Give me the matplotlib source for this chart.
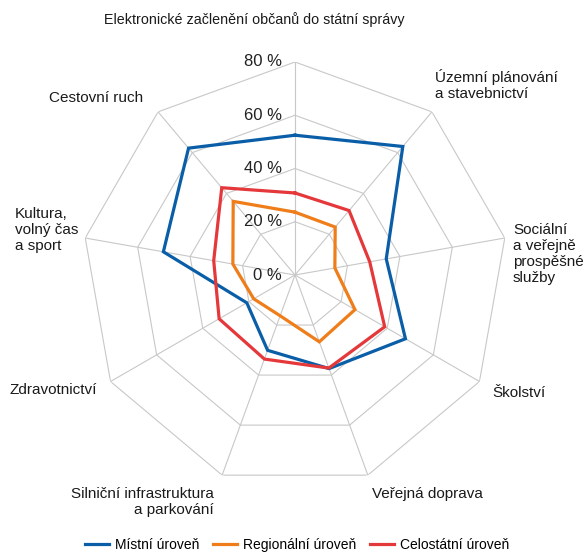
import numpy as np
import matplotlib
matplotlib.use("Agg")
import matplotlib.pyplot as plt
from matplotlib import transforms

plt.rcParams['font.family'] = ['Liberation Sans', 'DejaVu Sans']

# data, clockwise from the top
categories = [
    "Elektronické začlenění občanů do státní správy",
    "Územní plánování\na stavebnictví",
    "Sociální\na veřejně\nprospěšné\nslužby",
    "Školství",
    "Veřejná doprava",
    "Silniční infrastruktura\na parkování",
    "Zdravotnictví",
    "Kultura,\nvolný čas\na sport",
    "Cestovní ruch",
]
mistni = [52.5, 63.0, 34.8, 47.9, 37.4, 30.1, 20.9, 50.2, 62.2]
regionalni = [23.6, 23.5, 15.2, 26.0, 26.7, 16.3, 17.9, 23.7, 36.1]
celostatni = [30.8, 31.6, 28.5, 38.9, 37.2, 33.6, 32.9, 31.0, 42.8]
series_names = ["Místní úroveň", "Regionální úroveň", "Celostátní úroveň"]
colors = ["#0a5ea8", "#ee7d1a", "#e5383b"]
rticks = [0, 20, 40, 60, 80]

W, H = 587, 553
fig = plt.figure(figsize=(W / 100, H / 100), dpi=100)

# polar axes: center (295, 275) px, radius 213 px
cx, cy, rad = 295, 275, 213
ax = fig.add_axes([(cx - rad) / W, (H - cy - rad) / H, 2 * rad / W, 2 * rad / H],
                  projection='polar')
ax.set_theta_offset(np.pi / 2)
ax.set_theta_direction(-1)
ax.set_ylim(0, 80)
ax.grid(False)
ax.spines['polar'].set_visible(False)
ax.set_xticks([])
ax.set_yticks([])
ax.patch.set_alpha(0)

n = len(categories)
angles = np.arange(n) * 2 * np.pi / n
closed = np.append(angles, angles[0])

# polygon grid
grid_c = "#c8c8c8"
for r in rticks[1:]:
    ax.plot(closed, [r] * (n + 1), color=grid_c, lw=0.8, zorder=1)
for a in angles:
    ax.plot([a, a], [0, rticks[-1]], color=grid_c, lw=0.8, zorder=1)

# radial labels left of the top spoke
off = transforms.offset_copy(ax.transData, fig=fig, x=-13, y=0, units='dots')
for r in rticks:
    ax.text(0, r, f"{r} %", transform=off, ha='right', va='center',
            fontsize=12, color='#222222', zorder=3)

# series
for vals, name, c in zip([mistni, regionalni, celostatni], series_names, colors):
    ax.plot(closed, vals + vals[:1], color=c, lw=2.3, label=name, zorder=4,
            solid_joinstyle='miter')

# category labels
def px(x, y):
    return x / W, 1 - y / H

lab = dict(fontsize=11, color='#1a1a1a', linespacing=1.2)
fig.text(*px(254, 20), categories[0], ha='center', va='center',
         fontsize=10.3, color='#1a1a1a')
fig.text(*px(435, 85), categories[1], ha='left', va='center', **lab)
fig.text(*px(513, 254), categories[2], ha='left', va='center', **lab)
fig.text(*px(492, 393), categories[3], ha='left', va='center', **lab)
fig.text(*px(372, 494), categories[4], ha='left', va='center', **lab)
fig.text(*px(214, 502), categories[5], ha='right', va='center', multialignment='right', **lab)
fig.text(*px(9, 390), categories[6], ha='left', va='center', **lab)
fig.text(*px(15, 230), categories[7], ha='left', va='center', **lab)
fig.text(*px(49, 98), categories[8], ha='left', va='center', **lab)

fig.legend(loc='center', bbox_to_anchor=px(297, 545), ncol=3, frameon=False,
           fontsize=10, handlelength=1.75, handletextpad=0.4, columnspacing=1.0,
           borderaxespad=0, borderpad=0)

fig.savefig("out.png", dpi=100)
